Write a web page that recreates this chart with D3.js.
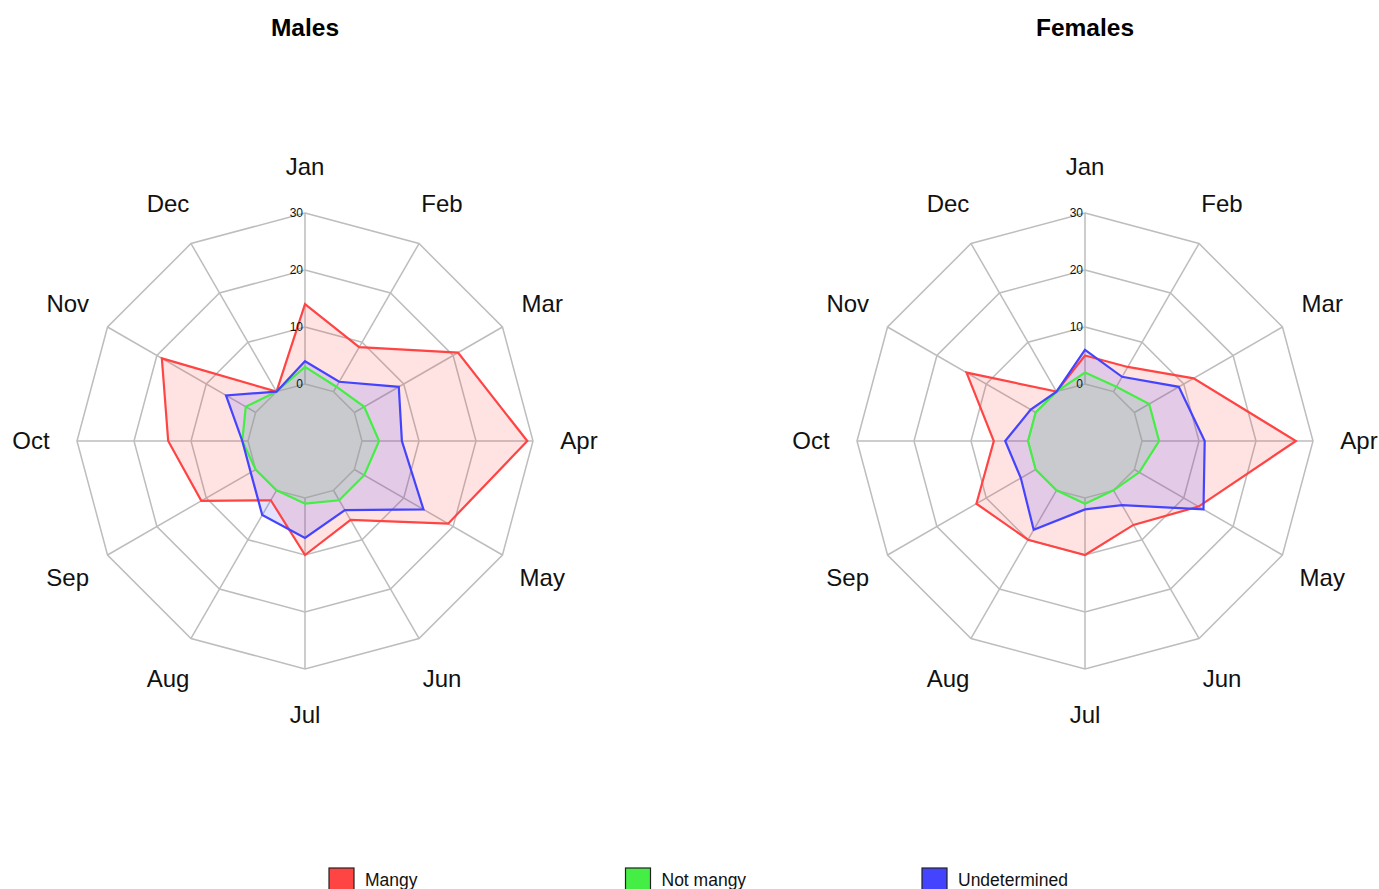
<!DOCTYPE html>
<html>
<head>
<meta charset="UTF-8">
<title>Radar</title>
<script src="https://cdnjs.cloudflare.com/ajax/libs/d3/7.8.5/d3.min.js"></script>
<style>
  body { margin: 0; background: #fff; }
  text { font-family: "Liberation Sans", Arial, sans-serif; }
</style>
</head>
<body>
<script>
var months = ["Jan","Feb","Mar","Apr","May","Jun","Jul","Aug","Sep","Oct","Nov","Dec"];
var ticks = [0, 10, 20, 30];
var groups = ["Males", "Females"];
var seriesNames = ["Mangy", "Not mangy", "Undetermined"];
var seriesColors = ["#ff4444", "#44ee44", "#4444ff"];

// values per month, Jan..Dec
var malesMangy        = [14, 9, 21, 29, 19, 6, 10, 2, 11, 14, 19, 0];
var malesNotMangy     = [3, 1, 2, 3, 2, 2, 1, 0, 0, 1, 2, 0];
var malesUndetermined = [4, 2, 9, 7, 14, 4, 7, 5, 1, 1, 6, 0];

var femalesMangy        = [5, 5, 12, 27, 13, 7, 10, 10, 12, 6, 14, 0];
var femalesNotMangy     = [2, 1, 3, 3, 1, 0, 1, 0, 0, 0, 0, 0];
var femalesUndetermined = [6, 3, 9, 11, 14, 3, 2, 8, 3, 4, 1, 0];

var data = [
  [malesMangy, malesNotMangy, malesUndetermined],
  [femalesMangy, femalesNotMangy, femalesUndetermined]
];

var width = 1379, height = 889;
var svg = d3.select("body").append("svg")
    .attr("width", width)
    .attr("height", height);

var r = d3.scaleLinear().domain([-10, 30]).range([0, 228]);
var angle = d3.scalePoint().domain(months).range([0, 2 * Math.PI * 11 / 12]);
var centers = [305, 1085];
var gridColor = "#bdbdbd";

function pt(m, v) {
  var a = angle(m);
  return [r(v) * Math.sin(a), -r(v) * Math.cos(a)];
}
var ring = d3.line().curve(d3.curveLinearClosed);

groups.forEach(function(name, gi) {
  var g = svg.append("g").attr("transform", "translate(" + centers[gi] + ",441)");

  svg.append("text")
      .attr("x", centers[gi]).attr("y", 36)
      .attr("text-anchor", "middle")
      .style("font-size", "24.5px").style("font-weight", "bold")
      .text(name);

  // spokes
  g.selectAll(".spoke").data(months).enter().append("line")
      .attr("x1", 0).attr("y1", 0)
      .attr("x2", function(m) { return pt(m, 30)[0]; })
      .attr("y2", function(m) { return pt(m, 30)[1]; })
      .attr("stroke", gridColor).attr("stroke-width", 1.5);

  // rings
  g.selectAll(".ring").data(ticks.slice(1)).enter().append("path")
      .attr("d", function(t) { return ring(months.map(function(m) { return pt(m, t); })); })
      .attr("fill", "none").attr("stroke", gridColor).attr("stroke-width", 1.5);

  // area fills
  data[gi].forEach(function(vals, si) {
    g.append("path")
        .attr("d", ring(months.map(function(m, i) { return pt(m, vals[i]); })))
        .attr("fill", seriesColors[si]).attr("fill-opacity", 0.15)
        .attr("stroke", "none");
  });

  // gray centre
  g.append("path")
      .attr("d", ring(months.map(function(m) { return pt(m, 0); })))
      .attr("fill", "#c9cacd").attr("stroke", "#a9a9a9").attr("stroke-width", 1.5);

  // series lines
  data[gi].forEach(function(vals, si) {
    g.append("path")
        .attr("d", ring(months.map(function(m, i) { return pt(m, vals[i]); })))
        .attr("fill", "none")
        .attr("stroke", seriesColors[si]).attr("stroke-width", 2.2)
        .attr("stroke-linejoin", "miter");
  });

  // tick labels
  g.selectAll(".tick").data(ticks).enter().append("text")
      .attr("x", -2)
      .attr("y", function(t) { return -r(t); })
      .attr("dy", "0.35em")
      .attr("text-anchor", "end")
      .style("font-size", "12px").style("fill", "#111")
      .text(function(t) { return t; });

  // month labels
  g.selectAll(".month").data(months).enter().append("text")
      .attr("x", function(m) { return 274 * Math.sin(angle(m)); })
      .attr("y", function(m) { return -274 * Math.cos(angle(m)); })
      .attr("dy", "0.35em")
      .attr("text-anchor", "middle")
      .style("font-size", "24px").style("fill", "#111")
      .text(function(m) { return m; });
});

// legend
var legend = svg.selectAll(".legend").data(seriesNames).enter().append("g")
    .attr("transform", function(d, i) { return "translate(" + (329 + i * 296.5) + ",868)"; });
legend.append("rect")
    .attr("width", 25).attr("height", 22)
    .attr("fill", function(d, i) { return seriesColors[i]; })
    .attr("stroke", "#222").attr("stroke-width", 1.2);
legend.append("text")
    .attr("x", 36).attr("y", 18)
    .style("font-size", "17.5px").style("fill", "#111")
    .text(function(d) { return d; });
</script>
</body>
</html>
